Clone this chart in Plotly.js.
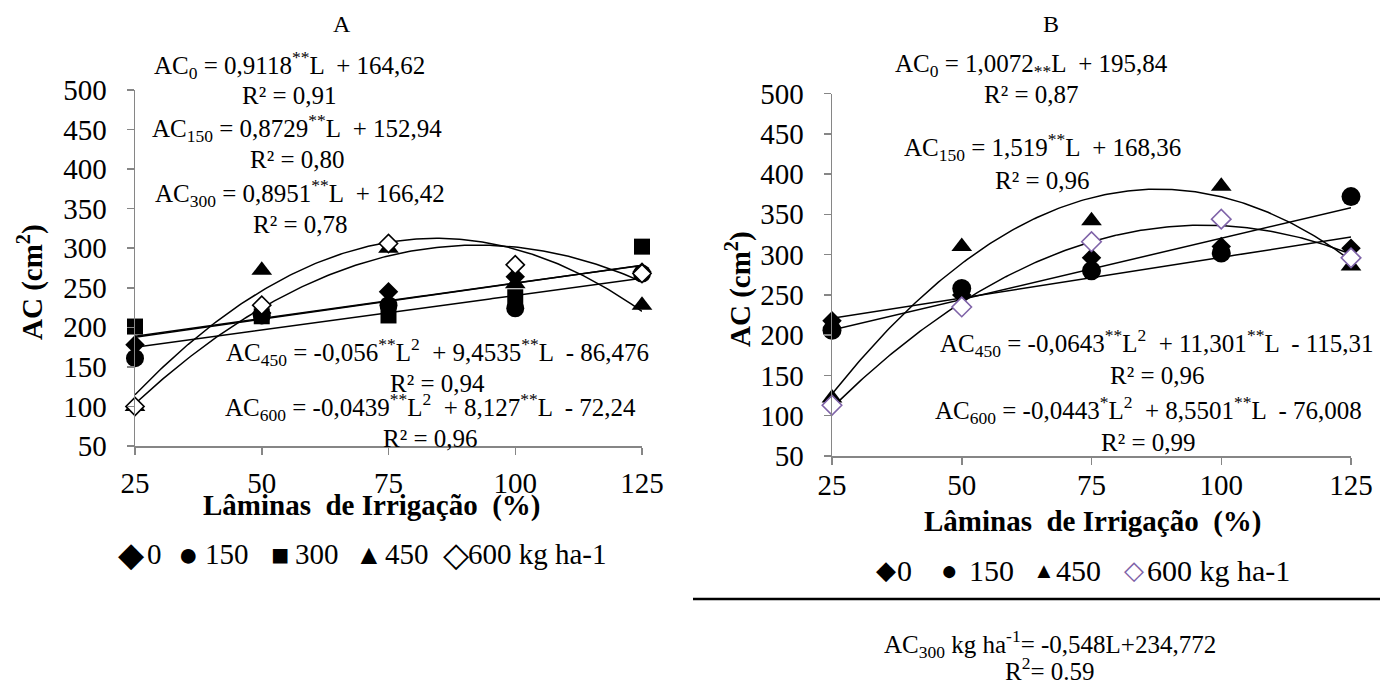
<!DOCTYPE html>
<html>
<head>
<meta charset="utf-8">
<script src="https://cdn.plot.ly/plotly-3.0.1.min.js"></script>
<style>html,body{margin:0;padding:0;background:#fff;}#chart{width:1380px;height:685px;}</style>
</head>
<body>
<div id="chart"></div>
<script>
// ---------- data ----------
const laminas = [25, 50, 75, 100, 125];
const xTickText = ['25', '50', '75', '100', '125'];
const yTicks = [50, 100, 150, 200, 250, 300, 350, 400, 450, 500];

// Panel A (AC, cm²)
const a0   = [178, 218, 245, 264, 270];
const a150 = [161, 215, 228, 224, 268];
const a300 = [201, 214, 215, 238, 302];
const a450 = [100, 272, 300, 255, 228];
const a600 = [100, 228, 306, 279, 268];

// Panel B (AC, cm²)
const b0   = [218, 250, 296, 310, 308];
const b150 = [206, 258, 280, 302, 372];
const b450 = [122, 310, 342, 385, 286];
const b600 = [113, 235, 316, 344, 296];

// regression coefficients printed on the chart: [L², L, const]
const trendA0   = [0, 0.9118, 164.62];
const trendA150 = [0, 0.8729, 152.94];
const trendA300 = [0, 0.8951, 166.42];
const trendA450 = [-0.056, 9.4535, -86.476];
const trendA600 = [-0.0439, 8.127, -72.24];
const trendB0   = [0, 1.0072, 195.84];
const trendB150 = [0, 1.519, 168.36];
const trendB450 = [-0.0643, 11.301, -115.31];
const trendB600 = [-0.0443, 8.5501, -76.008];

// equation texts
const eqA = [
  'AC<sub>0</sub> = 0,9118<sup>**</sup>L \u00a0+ 164,62', 'R² = 0,91',
  'AC<sub>150</sub> = 0,8729<sup>**</sup>L \u00a0+ 152,94', 'R² = 0,80',
  'AC<sub>300</sub> = 0,8951<sup>**</sup>L \u00a0+ 166,42', 'R² = 0,78',
  'AC<sub>450</sub> = -0,056<sup>**</sup>L<sup>2</sup> \u00a0+ 9,4535<sup>**</sup>L \u00a0- 86,476', 'R² = 0,94',
  'AC<sub>600</sub> = -0,0439<sup>**</sup>L<sup>2</sup> \u00a0+ 8,127<sup>**</sup>L \u00a0- 72,24', 'R² = 0,96'
];
const eqB = [
  'AC<sub>0</sub> = 1,0072<sub>**</sub>L \u00a0+ 195,84', 'R² = 0,87',
  'AC<sub>150</sub> = 1,519<sup>**</sup>L \u00a0+ 168,36', 'R² = 0,96',
  'AC<sub>450</sub> = -0,0643<sup>**</sup>L<sup>2</sup> \u00a0+ 11,301<sup>**</sup>L \u00a0- 115,31', 'R² = 0,96',
  'AC<sub>600</sub> = -0,0443<sup>*</sup>L<sup>2</sup> \u00a0+ 8,5501<sup>**</sup>L \u00a0- 76,008', 'R² = 0,99'
];
const eqBottom = ['AC<sub>300</sub> kg ha<sup>-1</sup>= -0,548L+234,772', 'R<sup>2</sup>= 0.59'];

const legendLabelsA = ['0', '150', '300', '450', '600 kg ha-1'];
const legendLabelsB = ['0', '150', '450', '600 kg ha-1'];

// ---------- layout helpers ----------
const W = 1380, H = 685;
const px = v => v / W;
const py = v => 1 - v / H;
const FONT = 'Liberation Serif';
const AXC = '#868686';
const PURPLE = '#7f63a8';

function curve(c) {
  const xs = [], ys = [];
  for (let L = 25; L <= 125; L += 0.5) { xs.push(L); ys.push(c[0] * L * L + c[1] * L + c[2]); }
  return { xs, ys };
}
function lineTrace(c, xa, ya) {
  const k = curve(c);
  return { x: k.xs, y: k.ys, xaxis: xa, yaxis: ya, mode: 'lines', line: { color: '#000', width: 1.5 }, hoverinfo: 'skip', showlegend: false };
}
function markTrace(y, xa, ya, symbol, size, color, lineColor, lineW) {
  return { x: laminas, y: y, xaxis: xa, yaxis: ya, mode: 'markers', cliponaxis: false, showlegend: false,
    marker: { symbol: symbol, size: size, color: color, line: { color: lineColor || color, width: lineW || 0 } } };
}

const traces = [
  lineTrace(trendA0, 'x', 'y'), lineTrace(trendA150, 'x', 'y'), lineTrace(trendA300, 'x', 'y'),
  lineTrace(trendA450, 'x', 'y'), lineTrace(trendA600, 'x', 'y'),
  markTrace(a0, 'x', 'y', 'diamond', 15, '#000'),
  markTrace(a150, 'x', 'y', 'circle', 18, '#000'),
  markTrace(a300, 'x', 'y', 'square', 16, '#000'),
  markTrace(a450, 'x', 'y', 'triangle-up', 18, '#000'),
  markTrace(a600, 'x', 'y', 'diamond', 14, '#fff', '#000', 1.6),

  lineTrace(trendB0, 'x2', 'y2'), lineTrace(trendB150, 'x2', 'y2'),
  lineTrace(trendB450, 'x2', 'y2'), lineTrace(trendB600, 'x2', 'y2'),
  markTrace(b0, 'x2', 'y2', 'diamond', 15, '#000'),
  markTrace(b150, 'x2', 'y2', 'circle', 19, '#000'),
  markTrace(b450, 'x2', 'y2', 'triangle-up', 18, '#000'),
  markTrace(b600, 'x2', 'y2', 'diamond', 15, '#fff', PURPLE, 1.6)
];

function xAxis(d0, d1, anchor, standoff) {
  return { domain: [px(d0), px(d1)], anchor: anchor, range: [25, 125], tickvals: laminas, ticktext: xTickText,
    ticks: 'outside', ticklen: 7, tickwidth: 1.5, tickcolor: AXC, showline: true, linecolor: AXC, linewidth: 1.5,
    showgrid: false, zeroline: false, fixedrange: true, ticklabelstandoff: standoff,
    tickfont: { family: FONT, size: 29, color: '#000' } };
}
function yAxis(top, bottom, anchor, standoff) {
  return { domain: [py(bottom), py(top)], anchor: anchor, range: [50, 500], tickvals: yTicks,
    ticks: 'outside', ticklen: 7, tickwidth: 1.5, tickcolor: AXC, showline: true, linecolor: AXC, linewidth: 1.5,
    showgrid: false, zeroline: false, fixedrange: true, ticklabelstandoff: standoff,
    tickfont: { family: FONT, size: 29, color: '#000' } };
}

const annotations = [];
function ann(text, x, y, size, extra) {
  annotations.push(Object.assign({ text: text, x: px(x), y: py(y), xref: 'paper', yref: 'paper', showarrow: false,
    xanchor: 'center', yanchor: 'middle', font: { family: FONT, size: size, color: '#000' } }, extra || {}));
}

// panel titles
ann('A', 342, 24, 24);
ann('B', 1051, 24, 24);

// equations
const eqPosA = [[289, 65], [289, 96], [297, 128], [297, 159], [300, 193], [300, 225], [437, 352], [437, 383], [430, 407], [430, 438]];
eqA.forEach((t, i) => ann(t, eqPosA[i][0], eqPosA[i][1], 25));
const eqPosB = [[1031, 65], [1031, 94], [1042, 147], [1042, 180], [1157, 343], [1157, 375], [1148, 410], [1148, 442]];
eqB.forEach((t, i) => ann(t, eqPosB[i][0], eqPosB[i][1], 25));

// axis titles
ann('<b>Lâminas\u00a0 de Irrigação\u00a0 (%)</b>', 372, 505, 29);
ann('<b>Lâminas\u00a0 de Irrigação\u00a0 (%)</b>', 1093, 521, 29);
ann('<b>AC (cm<sup>2</sup>)</b>', 30, 282, 29, { textangle: -90 });
ann('<b>AC (cm<sup>2</sup>)</b>', 738, 289, 29, { textangle: -90 });

// legends (text-based, like the original): symbol glyph + label
const symA = ['◆', '●', '■', '▲', '◇'];
const symCxA = [131, 189, 280, 369, 456];
const txtA = [145, 203, 293, 383, 466];
const symSizeA = [34, 34, 30, 28, 34];
legendLabelsA.forEach((l, i) => {
  ann(symA[i], symCxA[i], 554, symSizeA[i]);
  ann(l, txtA[i], 554, 29, { xanchor: 'left' });
});
const symB = ['◆', '●', '▲', '◇'];
const symColB = ['#000', '#000', '#000', PURPLE];
const symCxB = [886, 950, 1044, 1134];
const txtB = [895, 967, 1054, 1145];
const symSizeB = [26, 28, 22, 26];
legendLabelsB.forEach((l, i) => {
  annotations.push({ text: symB[i], x: px(symCxB[i]), y: py(570), xref: 'paper', yref: 'paper', showarrow: false,
    xanchor: 'center', yanchor: 'middle', font: { family: FONT, size: symSizeB[i], color: symColB[i] } });
  ann(l, txtB[i], 570, 30, { xanchor: 'left' });
});

// bottom note
ann(eqBottom[0], 1050, 644, 25);
ann(eqBottom[1], 1050, 669, 25);

const layout = {
  width: W, height: H, margin: { l: 0, r: 0, t: 0, b: 0 },
  paper_bgcolor: '#fff', plot_bgcolor: 'rgba(0,0,0,0)', showlegend: false,
  font: { family: FONT, color: '#000' },
  xaxis: xAxis(135, 642, 'y', 4),
  yaxis: yAxis(90, 446, 'x', 14),
  xaxis2: xAxis(832, 1351, 'y2', -4),
  yaxis2: yAxis(93.5, 456, 'x2', 14),
  annotations: annotations,
  shapes: [{ type: 'line', xref: 'paper', yref: 'paper', x0: px(693), x1: 1, y0: py(599), y1: py(599), line: { color: '#000', width: 2.5 } }]
};

Plotly.newPlot('chart', traces, layout, { displayModeBar: false, staticPlot: true });
</script>
</body>
</html>
